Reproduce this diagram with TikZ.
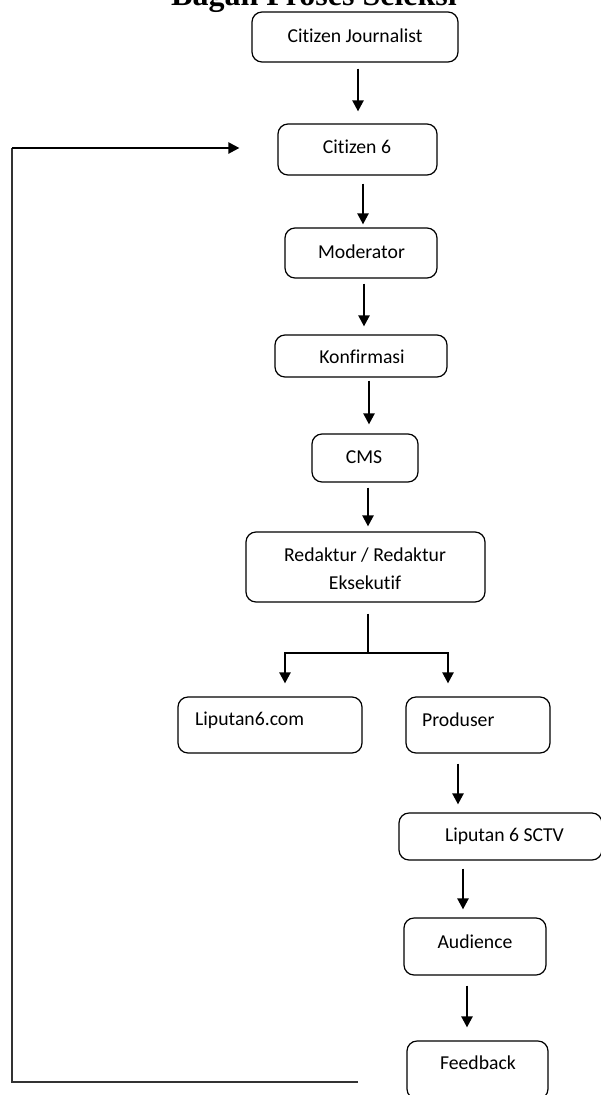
\documentclass[tikz,border=0pt]{standalone}
\usepackage{fontspec}
\setmainfont{Carlito}[Ligatures={NoCommon}]
\newfontfamily\titlefont{Liberation Serif}
\usetikzlibrary{arrows.meta}
\begin{document}
\begin{tikzpicture}[x=1pt,y=-1pt,
  boxstyle/.style={draw=black,line width=1.2pt,rounded corners=10pt,inner sep=0pt},
  txt/.style={inner sep=0pt,font=\fontsize{19.7}{28}\selectfont,align=center},
  arr/.style={line width=2.3pt,-{Triangle[width=11pt,length=11pt]}},
  thinline/.style={line width=1.3pt,draw=black!80}]
\useasboundingbox (0,0) rectangle (600,1095);
% title (cut at top, as in the reference)
\node[inner sep=0pt,anchor=base,font=\titlefont\bfseries\fontsize{32}{36}\selectfont] (title) at (314,5) {Bagan Proses Seleksi};
% boxes
\node[boxstyle,minimum width=206pt,minimum height=50pt] (b1) at (355,37) {};
\node[boxstyle,minimum width=159pt,minimum height=51pt] (b2) at (357.5,149.5) {};
\node[boxstyle,minimum width=152pt,minimum height=50pt] (b3) at (361,253) {};
\node[boxstyle,minimum width=172pt,minimum height=42pt] (b4) at (361,356) {};
\node[boxstyle,minimum width=106pt,minimum height=48pt] (b5) at (365,458) {};
\node[boxstyle,minimum width=239pt,minimum height=70pt] (b6) at (365.5,567) {};
\node[boxstyle,minimum width=184pt,minimum height=56pt] (b7) at (270,725) {};
\node[boxstyle,minimum width=144pt,minimum height=56pt] (b8) at (478,725) {};
\node[boxstyle,minimum width=203pt,minimum height=47pt] (b9) at (500.5,836.5) {};
\node[boxstyle,minimum width=142pt,minimum height=57pt] (b10) at (475,946.5) {};
\node[boxstyle,minimum width=141pt,minimum height=58pt] (b11) at (477.5,1070) {};
% texts
\node[txt] (t1) at (355,36) {Citizen Journalist};
\node[txt] (t2) at (357,147) {Citizen 6};
\node[txt] (t3) at (361.5,252) {Moderator};
\node[txt] (t4) at (362,357) {Konfirmasi};
\node[txt] (t5) at (364,457) {CMS};
\node[txt,align=center] (t6) at (365,569) {Redaktur / Redaktur\\Eksekutif};
\node[txt,anchor=west] (t7) at (195,720) {Liputan6.com};
\node[txt,anchor=west] (t8) at (422,720) {Produser};
\node[txt] (t9) at (504.5,836) {Liputan 6 SCTV};
\node[txt] (t10) at (475,942) {Audience};
\node[txt] (t11) at (478,1063) {Feedback};
% arrows
\draw[arr] ([xshift=3pt,yshift=-6pt]b1.south) -- ([xshift=0.5pt,yshift=12pt]b2.north);
\draw[arr] ([xshift=5.5pt,yshift=-8pt]b2.south) -- ([xshift=2pt,yshift=3pt]b3.north);
\draw[arr] ([xshift=3pt,yshift=-5pt]b3.south) -- ([xshift=3pt,yshift=8pt]b4.north);
\draw[arr] ([xshift=8pt,yshift=-3pt]b4.south) -- ([xshift=4pt,yshift=9pt]b5.north);
\draw[arr] ([xshift=3pt,yshift=-5pt]b5.south) -- ([xshift=2.5pt,yshift=5pt]b6.north);
% branch
\coordinate (split) at (368,653);
\draw[line width=2.3pt] ([xshift=2.5pt,yshift=-11pt]b6.south) -- (split);
\draw[arr] (split) -| ([xshift=15pt,yshift=13pt]b7.north);
\draw[arr] (split) -| ([xshift=-30pt,yshift=13pt]b8.north);
\draw[arr] ([xshift=-20pt,yshift=-10pt]b8.south) -- ([xshift=-42.5pt,yshift=8pt]b9.north);
\draw[arr] ([xshift=-37.5pt,yshift=-8pt]b9.south) -- ([xshift=-12pt,yshift=8pt]b10.north);
\draw[arr] ([xshift=-8pt,yshift=-10pt]b10.south) -- ([xshift=-10.5pt,yshift=13pt]b11.north);
% feedback loop
\coordinate (loopend) at (358,1082);
\coordinate (loopbl) at (12,1082);
\coordinate (looptl) at (12,148);
\draw[thinline] (loopend) -- (loopbl) -- (looptl);
\draw[arr] (looptl) -- ([xshift=-38pt]b2.west |- looptl);
\end{tikzpicture}
\end{document}
